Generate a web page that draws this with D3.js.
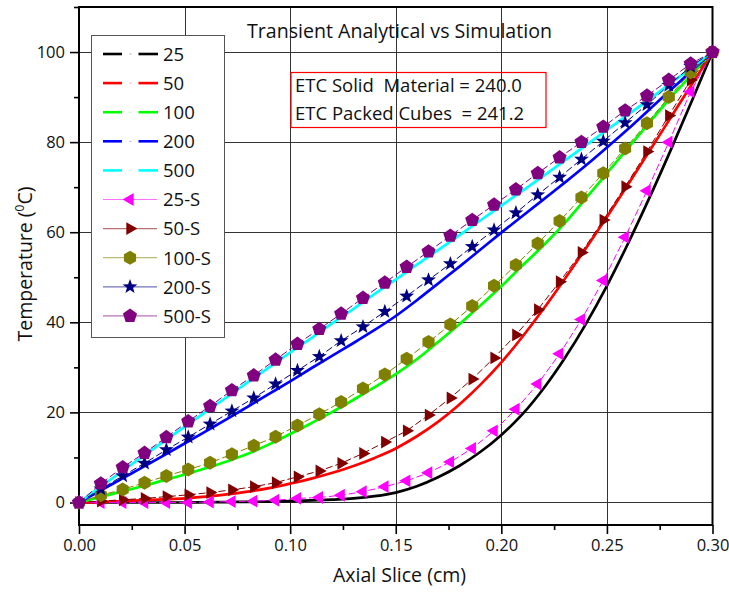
<!DOCTYPE html>
<html>
<head>
<meta charset="utf-8">
<script src="https://cdn.jsdelivr.net/npm/d3@7"></script>
<style>
  html, body { margin: 0; padding: 0; background: #fff; }
  svg { display: block; font-family: "Open Sans", "Noto Sans", sans-serif; }
  text { white-space: pre; }
</style>
</head>
<body>
<svg id="chart" width="729" height="592"></svg>
<script>
// Axial positions (cm) of the analytical curves
const xAnalytical = [0.00, 0.01, 0.02, 0.03, 0.04, 0.05, 0.06, 0.07, 0.08, 0.09,
  0.10, 0.11, 0.12, 0.13, 0.14, 0.15, 0.16, 0.17, 0.18, 0.19,
  0.20, 0.21, 0.22, 0.23, 0.24, 0.25, 0.26, 0.27, 0.28, 0.29, 0.30];

// Analytical temperatures (°C) at each time step
const t25  = [0, 0, 0, 0, 0, 0, 0.05, 0.1, 0.15, 0.2, 0.3, 0.45, 0.65, 0.9, 1.4, 2.2, 3.6, 5.6, 8.1, 11.2,
  15.0, 19.6, 25.3, 32.0, 39.6, 48.1, 57.5, 67.5, 78.0, 88.9, 100];
const t50  = [0, 0.1, 0.3, 0.5, 0.7, 0.9, 1.3, 1.8, 2.4, 3.2, 4.2, 5.3, 6.6, 8.1, 9.9, 12.0, 14.7, 17.9, 21.7, 26.1,
  31.1, 36.8, 43.0, 49.6, 56.4, 63.4, 70.6, 77.9, 85.3, 92.7, 100];
const t100 = [0, 1.2, 2.4, 3.6, 4.9, 6.2, 7.6, 9.1, 10.8, 12.9, 15.2, 17.6, 20.1, 22.8, 25.6, 28.5, 31.8, 35.6, 39.5, 43.7,
  48.0, 52.6, 57.1, 62.0, 67.5, 73.1, 78.7, 84.3, 89.8, 94.9, 100];
const t200 = [0, 2.6, 5.2, 7.8, 10.4, 13.1, 15.8, 18.5, 21.3, 24.1, 26.9, 29.8, 32.6, 35.4, 38.3, 41.4, 44.9, 48.6, 52.3, 56.1,
  59.9, 63.6, 67.3, 71.0, 74.8, 78.8, 82.9, 87.2, 91.5, 95.8, 100];
const t500 = [0, 3.4, 6.8, 10.2, 13.5, 16.8, 20.1, 23.4, 26.7, 30.0, 33.3, 36.5, 39.8, 43.0, 46.3, 49.5, 52.8, 56.0, 59.3, 62.6,
  65.9, 69.2, 72.5, 75.9, 79.3, 82.7, 86.1, 89.5, 93.0, 96.5, 100];

// Axial positions (cm) of the simulation nodes
const xSimulation = [0.00000, 0.01034, 0.02069, 0.03103, 0.04138, 0.05172, 0.06207, 0.07241, 0.08276, 0.09310,
  0.10345, 0.11379, 0.12414, 0.13448, 0.14483, 0.15517, 0.16552, 0.17586, 0.18621, 0.19655,
  0.20690, 0.21724, 0.22759, 0.23793, 0.24828, 0.25862, 0.26897, 0.27931, 0.28966, 0.30000];

// Simulated temperatures (°C)
const s25  = [0, 0, 0, 0, 0, 0, 0.1, 0.2, 0.3, 0.5, 0.9, 1.1, 1.6, 2.4, 3.5, 4.8, 6.6, 9.0, 12.0, 15.9,
  20.7, 26.3, 33.0, 40.6, 49.3, 58.9, 69.2, 80.0, 91.2, 100];
const s50  = [0, 0.3, 0.6, 0.9, 1.3, 1.7, 2.2, 2.8, 3.5, 4.4, 5.7, 7.0, 8.7, 10.9, 13.4, 15.9, 19.4, 23.2, 27.4, 32.1,
  37.2, 42.8, 49.0, 55.5, 62.7, 70.1, 77.9, 85.9, 93.8, 100];
const s100 = [0, 1.6, 2.9, 4.4, 5.9, 7.3, 8.8, 10.7, 12.6, 14.6, 17.1, 19.6, 22.3, 25.3, 28.4, 31.9, 35.6, 39.5, 43.6, 48.1,
  52.7, 57.5, 62.5, 67.7, 73.1, 78.6, 84.2, 90.0, 95.5, 100];
const s200 = [0, 3.0, 5.9, 8.7, 11.7, 14.5, 17.4, 20.3, 23.2, 26.3, 29.3, 32.4, 35.9, 39.0, 42.4, 45.8, 49.4, 53.0, 56.8, 60.5,
  64.3, 68.3, 72.2, 76.2, 80.2, 84.3, 88.3, 92.6, 96.8, 100];
const s500 = [0, 4.2, 7.8, 11.0, 14.5, 18.0, 21.4, 24.9, 28.2, 31.7, 35.2, 38.5, 41.9, 45.4, 48.8, 52.3, 55.7, 59.2, 62.7, 66.1,
  69.5, 73.1, 76.6, 80.0, 83.4, 87.0, 90.3, 93.8, 97.4, 100];

const analyticalLabels = ["25", "50", "100", "200", "500"];
const simulationLabels = ["25-S", "50-S", "100-S", "200-S", "500-S"];

const xTicks = [0, 0.05, 0.10, 0.15, 0.20, 0.25, 0.30];
const xMinorTicks = [0.025, 0.075, 0.125, 0.175, 0.225, 0.275];
const yTicks = [0, 20, 40, 60, 80, 100];
const yMinorTicks = [10, 30, 50, 70, 90, 110];

const analyticalColors = ["#000000", "#ff0000", "#00ff00", "#0000ff", "#00ffff"];
const simulationColors = ["#ff00ff", "#800000", "#808000", "#000080", "#800080"];
const simulationShapes = ["triLeft", "triRight", "hexagon", "star", "pentagon"];

const analytical = [t25, t50, t100, t200, t500];
const simulation = [s25, s50, s100, s200, s500];

const svg = d3.select("#chart");
const plotLeft = 79, plotRight = 712.5, plotTop = 7, plotBottom = 525;

const x = d3.scaleLinear().domain([0, 0.30]).range([plotLeft, plotRight]);
const y = d3.scaleLinear().domain([-5, 110]).range([plotBottom, plotTop]);

// Grid
const grid = svg.append("g").attr("stroke", "#333").attr("stroke-width", 1);
grid.selectAll("line.gx").data(xTicks.filter(d => d > 0 && d < 0.3)).join("line")
  .attr("x1", d => Math.round(x(d)) + 0.5).attr("x2", d => Math.round(x(d)) + 0.5)
  .attr("y1", plotTop).attr("y2", plotBottom);
grid.selectAll("line.gy").data(yTicks).join("line")
  .attr("y1", d => Math.round(y(d)) + 0.5).attr("y2", d => Math.round(y(d)) + 0.5)
  .attr("x1", plotLeft).attr("x2", plotRight);

// Axes
const xAxis = d3.axisBottom(x).tickValues(xTicks).tickFormat(d3.format(".2f")).tickSize(9).tickPadding(5);
const xAxisMinor = d3.axisBottom(x).tickValues(xMinorTicks).tickFormat("").tickSize(5);
const yAxis = d3.axisLeft(y).tickValues(yTicks).tickFormat(d3.format("d")).tickSize(9).tickPadding(5);
const yAxisMinor = d3.axisLeft(y).tickValues(yMinorTicks).tickFormat("").tickSize(5);

function styleAxis(g) {
  g.select(".domain").remove();
  g.selectAll(".tick line").attr("stroke", "#000").attr("stroke-width", 1.6);
  g.selectAll(".tick text").attr("font-family", "Open Sans").attr("font-size", 16.5).attr("fill", "#111");
}
svg.append("g").attr("transform", `translate(0,${plotBottom})`).call(xAxis).call(styleAxis);
svg.append("g").attr("transform", `translate(0,${plotBottom})`).call(xAxisMinor).call(styleAxis);
svg.append("g").attr("transform", `translate(${plotLeft},0)`).call(yAxis).call(styleAxis);
svg.append("g").attr("transform", `translate(${plotLeft},0)`).call(yAxisMinor).call(styleAxis);

// Frame
svg.append("rect").attr("x", plotLeft).attr("y", plotTop)
  .attr("width", plotRight - plotLeft).attr("height", plotBottom - plotTop)
  .attr("fill", "none").attr("stroke", "#000").attr("stroke-width", 2);

// Analytical curves
const line = d3.line().curve(d3.curveMonotoneX);
analytical.forEach((vals, i) => {
  svg.append("path")
    .attr("d", line(vals.map((v, j) => [x(xAnalytical[j]), y(v)])))
    .attr("fill", "none").attr("stroke", analyticalColors[i]).attr("stroke-width", 2.7);
});

// Marker shapes
function polygon(n, r, startDeg) {
  const pts = [];
  for (let k = 0; k < n; k++) {
    const a = (startDeg + k * 360 / n) * Math.PI / 180;
    pts.push([r * Math.cos(a), r * Math.sin(a)]);
  }
  return "M" + pts.map(p => p[0].toFixed(2) + "," + p[1].toFixed(2)).join("L") + "Z";
}
function starPath(ro, ri) {
  const pts = [];
  for (let k = 0; k < 10; k++) {
    const r = k % 2 === 0 ? ro : ri;
    const a = (-90 + k * 36) * Math.PI / 180;
    pts.push([r * Math.cos(a), r * Math.sin(a)]);
  }
  return "M" + pts.map(p => p[0].toFixed(2) + "," + p[1].toFixed(2)).join("L") + "Z";
}
const shapePaths = {
  triLeft: polygon(3, 7.4, 180),
  triRight: polygon(3, 7.4, 0),
  hexagon: polygon(6, 7.0, -90),
  star: starPath(7.8, 3.2),
  pentagon: polygon(5, 7.4, -90)
};

// Simulation series: thin dashed connectors with markers
const straight = d3.line();
simulation.forEach((vals, i) => {
  const pts = vals.map((v, j) => [x(xSimulation[j]), y(v)]);
  svg.append("path").attr("d", straight(pts)).attr("fill", "none")
    .attr("stroke", simulationColors[i]).attr("stroke-width", 1).attr("stroke-dasharray", "7,3");
  svg.append("g").selectAll("path").data(pts).join("path")
    .attr("transform", d => `translate(${d[0]},${d[1]})`)
    .attr("d", shapePaths[simulationShapes[i]])
    .attr("fill", simulationColors[i]);
});

// Legend
const lg = svg.append("g");
lg.append("rect").attr("x", 91.5).attr("y", 35.5).attr("width", 133).attr("height", 302)
  .attr("fill", "#fff").attr("stroke", "#555").attr("stroke-width", 1);
const rowY = d => 54 + d * 29.1;
analyticalLabels.forEach((lab, i) => {
  const cy = rowY(i);
  lg.append("line").attr("x1", 103).attr("x2", 122).attr("y1", cy).attr("y2", cy)
    .attr("stroke", analyticalColors[i]).attr("stroke-width", 2.6);
  lg.append("line").attr("x1", 138.5).attr("x2", 158).attr("y1", cy).attr("y2", cy)
    .attr("stroke", analyticalColors[i]).attr("stroke-width", 2.6);
  lg.append("line").attr("x1", 129.5).attr("x2", 131.5).attr("y1", cy).attr("y2", cy)
    .attr("stroke", analyticalColors[i]).attr("stroke-width", 1).attr("opacity", 0.35);
  lg.append("text").attr("x", 163).attr("y", cy + 6.8).attr("font-size", 18.5).attr("fill", "#111").text(lab);
});
simulationLabels.forEach((lab, i) => {
  const cy = rowY(i + 5);
  lg.append("line").attr("x1", 103).attr("x2", 157).attr("y1", cy).attr("y2", cy)
    .attr("stroke", simulationColors[i]).attr("stroke-width", 1.2).attr("opacity", 0.55);
  lg.append("path").attr("transform", `translate(130,${cy})`)
    .attr("d", shapePaths[simulationShapes[i]]).attr("fill", simulationColors[i]);
  lg.append("text").attr("x", 163).attr("y", cy + 6.8).attr("font-size", 18.5).attr("fill", "#111").text(lab);
});

// Title and annotation box
svg.append("text").attr("x", 399.5).attr("y", 38).attr("text-anchor", "middle")
  .attr("font-size", 19.6).attr("fill", "#111").text("Transient Analytical vs Simulation");
svg.append("rect").attr("x", 291).attr("y", 72.5).attr("width", 255).attr("height", 55)
  .attr("fill", "none").attr("stroke", "#ff0000").attr("stroke-width", 1.2);
svg.append("text").attr("x", 295).attr("y", 92).attr("font-size", 18.5).attr("fill", "#111")
  .text("ETC Solid  Material = 240.0");
svg.append("text").attr("x", 295).attr("y", 120).attr("font-size", 18.5).attr("fill", "#111")
  .text("ETC Packed Cubes  = 241.2");

// Axis titles
svg.append("text").attr("x", 399.5).attr("y", 582).attr("text-anchor", "middle")
  .attr("font-size", 19.5).attr("fill", "#111").text("Axial Slice (cm)");
const yt = svg.append("text").attr("transform", "translate(32,264) rotate(-90)")
  .attr("text-anchor", "middle").attr("font-size", 19.5).attr("fill", "#111");
yt.append("tspan").text("Temperature (");
yt.append("tspan").attr("font-size", 12).attr("dy", -8).text("0");
yt.append("tspan").attr("dy", 8).text("C)");
</script>
</body>
</html>
